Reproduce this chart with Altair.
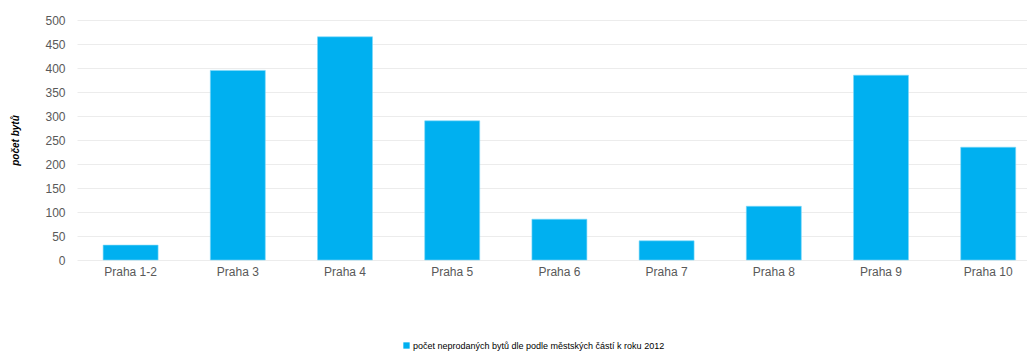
import altair as alt
import pandas as pd

# Unsold flats by Prague district, 2012
districts = ["Praha 1-2", "Praha 3", "Praha 4", "Praha 5", "Praha 6",
             "Praha 7", "Praha 8", "Praha 9", "Praha 10"]
unsold = [31, 395, 465, 290, 85, 40, 112, 385, 235]
series_name = "počet neprodaných bytů dle podle městských částí k roku 2012"
y_ticks = [0, 50, 100, 150, 200, 250, 300, 350, 400, 450, 500]

df = pd.DataFrame({"district": districts, "value": unsold, "series": series_name})

FONT = "Liberation Sans"
GREY = "#595959"

chart = (
    alt.Chart(df)
    .mark_bar(color="#00B0F0", stroke="#7fd8f8", strokeWidth=0.6)
    .encode(
        x=alt.X(
            "district:N",
            sort=districts,
            title=None,
            scale=alt.Scale(paddingInner=0.487, paddingOuter=0.1745, align=0.698),
            axis=alt.Axis(labelAngle=0, labelFont=FONT, labelFontSize=12,
                          labelColor=GREY, labelPadding=6, ticks=False,
                          domain=False, grid=False),
        ),
        y=alt.Y(
            "value:Q",
            title="počet bytů",
            scale=alt.Scale(domain=[0, 500], nice=False),
            axis=alt.Axis(values=y_ticks, labelFont=FONT, labelFontSize=12,
                          labelColor=GREY, labelPadding=12, ticks=False,
                          domain=False, gridColor="#ececec", gridWidth=1,
                          titleFont=FONT, titleFontSize=10, titleFontWeight="bold",
                          titleFontStyle="italic", titleColor="#000000",
                          titleX=-62, titleY=120, titleAngle=-90,
                          titleAlign="center", titleBaseline="middle"),
        ),
        fill=alt.Fill(
            "series:N",
            scale=alt.Scale(domain=[series_name], range=["#00B0F0"]),
            legend=alt.Legend(title=None, orient="none", legendX=325, legendY=321,
                              symbolType="square", symbolSize=40,
                              symbolStrokeWidth=0, labelFont=FONT,
                              labelFontSize=9, labelColor="#000000",
                              labelOffset=2, labelLimit=0),
        ),
    )
    .properties(
        width=950,
        height=240,
        padding={"left": 77, "top": 20, "right": 0, "bottom": 92},
        autosize=alt.AutoSizeParams(type="none"),
        background="#ffffff",
    )
    .configure_view(stroke=None)
)

chart.save("out.html", embed_options={"renderer": "svg", "actions": False})
